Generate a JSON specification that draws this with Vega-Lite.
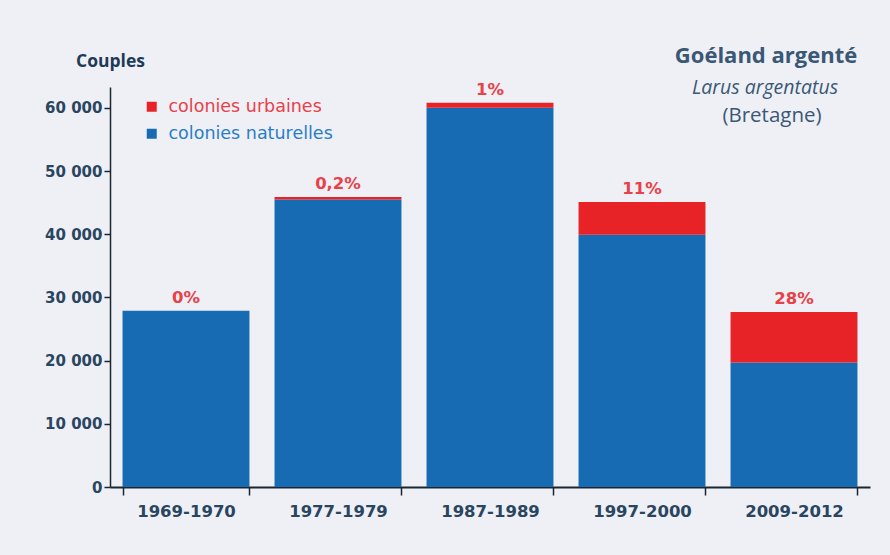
{
  "$schema": "https://vega.github.io/schema/vega-lite/v6.json",
  "width": 760,
  "height": 400,
  "autosize": {"type": "none"},
  "padding": {"left": 110, "top": 87, "right": 20, "bottom": 68},
  "background": "#eef0f5",
  "config": {"view": {"stroke": null}},
  "datasets": {
    "bars": [
      {"periode": "1969-1970", "type": "colonies naturelles", "couples": 27900},
      {"periode": "1969-1970", "type": "colonies urbaines", "couples": 0},
      {"periode": "1977-1979", "type": "colonies naturelles", "couples": 45500},
      {"periode": "1977-1979", "type": "colonies urbaines", "couples": 400},
      {"periode": "1987-1989", "type": "colonies naturelles", "couples": 60000},
      {"periode": "1987-1989", "type": "colonies urbaines", "couples": 800},
      {"periode": "1997-2000", "type": "colonies naturelles", "couples": 39900},
      {"periode": "1997-2000", "type": "colonies urbaines", "couples": 5200},
      {"periode": "2009-2012", "type": "colonies naturelles", "couples": 19700},
      {"periode": "2009-2012", "type": "colonies urbaines", "couples": 8000}
    ],
    "labels": [
      {"periode": "1969-1970", "total": 27900, "pct": "0%"},
      {"periode": "1977-1979", "total": 45900, "pct": "0,2%"},
      {"periode": "1987-1989", "total": 60800, "pct": "1%"},
      {"periode": "1997-2000", "total": 45100, "pct": "11%"},
      {"periode": "2009-2012", "total": 27700, "pct": "28%"}
    ],
    "titres": [
      {"texte": "Goéland argenté", "periode": "2009-2012", "y": 68200}
    ],
    "sous": [
      {"texte": "Larus argentatus", "periode": "2009-2012", "y": 63150}
    ],
    "region": [
      {"texte": "(Bretagne)", "periode": "2009-2012", "y": 58740}
    ]
  },
  "layer": [
    {
      "data": {"name": "bars"},
      "mark": {"type": "bar"},
      "encoding": {
        "x": {
          "field": "periode", "type": "nominal", "sort": null,
          "scale": {"paddingInner": 0.165, "paddingOuter": 0.0825},
          "axis": {
            "title": null, "labelAngle": 0, "tickBand": "extent",
            "domainColor": "#1b2633", "domainWidth": 2,
            "tickColor": "#1b2633", "tickWidth": 1.5, "tickSize": 8,
            "labelPadding": 8, "labelFont": "DejaVu Sans", "labelFontWeight": "bold",
            "labelFontSize": 16.5, "labelColor": "#2a4560"
          }
        },
        "y": {
          "field": "couples", "type": "quantitative", "stack": "zero",
          "scale": {"domain": [0, 63300], "nice": false, "zero": true},
          "axis": {
            "values": [0, 10000, 20000, 30000, 40000, 50000, 60000],
            "grid": false,
            "labelExpr": "replace(format(datum.value, ','), ',', ' ')",
            "labelFont": "DejaVu Sans", "labelFontWeight": "bold", "labelFontSize": 15,
            "labelColor": "#2a4560", "labelPadding": 2,
            "domainColor": "#1b2633", "domainWidth": 1.5,
            "tickColor": "#1b2633", "tickWidth": 1.5, "tickSize": 6,
            "title": "Couples", "titleAngle": 0, "titleAlign": "center",
            "titleBaseline": "middle", "titleX": 0, "titleY": -26,
            "titleFont": "Open Sans", "titleFontSize": 17.5, "titleFontWeight": "bold",
            "titleColor": "#1f3a56"
          }
        },
        "color": {
          "field": "type", "type": "nominal",
          "scale": {"domain": ["colonies urbaines", "colonies naturelles"], "range": ["#e82327", "#176bb3"]},
          "legend": {
            "title": null, "orient": "none", "legendX": 33, "legendY": 11,
            "symbolType": "square", "symbolSize": 100, "symbolStrokeWidth": 0,
            "labelFont": "DejaVu Sans", "labelFontSize": 17.5, "labelOffset": 8,
            "labelLimit": 300,
            "rowPadding": 8, "padding": 0,
            "labelColor": {"expr": "datum.value == 'colonies urbaines' ? '#e8414a' : '#2a7ec8'"}
          }
        },
        "order": {"field": "type", "sort": "ascending"}
      }
    },
    {
      "data": {"name": "labels"},
      "mark": {"type": "text", "baseline": "middle", "dy": -13, "font": "DejaVu Sans", "fontWeight": "bold", "fontSize": 16.5, "color": "#e8414a"},
      "encoding": {
        "x": {"field": "periode", "type": "nominal", "sort": null},
        "y": {"field": "total", "type": "quantitative"},
        "text": {"field": "pct"}
      }
    },
    {
      "data": {"name": "titres"},
      "mark": {"type": "text", "baseline": "middle", "align": "center", "dx": -28, "font": "Open Sans", "fontWeight": "bold", "fontSize": 22, "color": "#3a5876", "clip": false},
      "encoding": {
        "x": {"field": "periode", "type": "nominal", "sort": null},
        "y": {"field": "y", "type": "quantitative"},
        "text": {"field": "texte"}
      }
    },
    {
      "data": {"name": "sous"},
      "mark": {"type": "text", "baseline": "middle", "align": "center", "dx": -29, "font": "Open Sans", "fontStyle": "italic", "fontSize": 19.5, "color": "#3a5876"},
      "encoding": {
        "x": {"field": "periode", "type": "nominal", "sort": null},
        "y": {"field": "y", "type": "quantitative"},
        "text": {"field": "texte"}
      }
    },
    {
      "data": {"name": "region"},
      "mark": {"type": "text", "baseline": "middle", "align": "center", "dx": -22, "font": "Open Sans", "fontSize": 20.5, "color": "#3a5876"},
      "encoding": {
        "x": {"field": "periode", "type": "nominal", "sort": null},
        "y": {"field": "y", "type": "quantitative"},
        "text": {"field": "texte"}
      }
    }
  ]
}
